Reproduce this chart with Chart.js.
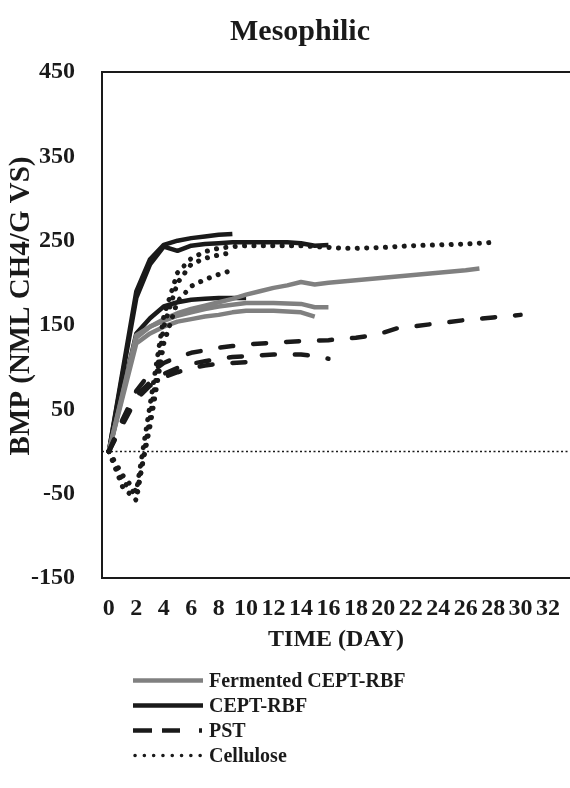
<!DOCTYPE html>
<html>
<head>
<meta charset="utf-8">
<script src="https://cdn.jsdelivr.net/npm/chart.js@4.4.1/dist/chart.umd.min.js"></script>
<style>
  body { margin: 0; background: #fff; }
  #wrap { position: relative; width: 570px; height: 788px; }
  #legend { position: absolute; left: 0; top: 0; font: bold 20px "Liberation Serif", serif; color: #1a1a1a; }
  .item { position: absolute; left: 133px; height: 25px; display: flex; align-items: center; white-space: nowrap; }
  .item svg { width: 72px; height: 25px; margin-right: 4px; }
</style>
</head>
<body>
<div id="wrap">
  <canvas id="myChart" width="570" height="788"></canvas>
  <div id="legend"></div>
</div>
<script>
// Mesophilic BMP curves, three replicates per substrate
const xTicks = [0, 2, 4, 6, 8, 10, 12, 14, 16, 18, 20, 22, 24, 26, 28, 30, 32];
const seriesNames = ["Fermented CEPT-RBF", "CEPT-RBF", "PST", "Cellulose"];

// Fermented CEPT-RBF
const fermDaysA = [0, 2, 3, 4, 5, 6, 7, 8, 9, 10, 11, 12, 13, 14, 15, 16, 18, 20, 22, 24, 26, 27];
const fermA = [0, 135, 148, 157, 164, 169, 173, 177, 181, 186, 190, 194, 197, 201, 198, 200, 203, 206, 209, 212, 215, 217];
const fermDaysB = [0, 2, 3, 4, 5, 6, 7, 8, 9, 10, 12, 14, 15, 16];
const fermB = [0, 138, 148, 155, 161, 165, 169, 172, 174, 176, 176, 175, 171, 171];
const fermDaysC = [0, 2, 3, 4, 5, 6, 7, 8, 9, 10, 12, 14, 15];
const fermC = [0, 128, 140, 148, 154, 157, 160, 162, 165, 167, 167, 165, 160];

// CEPT-RBF
const ceptDaysA = [0, 2, 3, 4, 5, 6, 7, 8, 9];
const ceptA = [0, 190, 228, 245, 250, 253, 255, 257, 258];
const ceptDaysB = [0, 2, 3, 4, 5, 6, 7, 8, 9, 10, 11, 12, 13, 14, 15, 16];
const ceptB = [0, 182, 222, 243, 238, 244, 246, 247, 248, 248, 248, 248, 248, 247, 244, 245];
const ceptDaysC = [0, 2, 3, 4, 5, 6, 7, 8, 9, 10];
const ceptC = [0, 140, 158, 172, 177, 180, 181, 182, 182, 182];

// PST
const pstDaysA = [0, 1, 2, 3, 4, 5, 6, 7, 8, 9, 10, 12, 14, 16, 18, 19, 20, 21, 22, 24, 26, 28, 30];
const pstA = [0, 38, 72, 93, 105, 112, 117, 120, 123, 125, 127, 129, 131, 132, 135, 137, 141, 146, 148, 152, 156, 159, 162];
const pstDaysB = [0, 1, 2, 3, 4, 5, 6, 7, 8, 9, 10, 11, 12, 13, 14, 15, 16];
const pstB = [0, 35, 66, 82, 92, 99, 104, 107, 110, 112, 113, 114, 115, 115, 115, 113, 110];
const pstDaysC = [0, 1, 2, 3, 4, 5, 6, 7, 8, 9, 10];
const pstC = [0, 32, 62, 78, 88, 94, 99, 102, 104, 105, 106];

// Cellulose
const celDaysA = [0, 1, 2, 3, 4, 5, 6, 7, 8, 9, 10, 11, 12, 13, 14, 15, 16, 17, 18, 20, 22, 24, 26, 28];
const celA = [0, -28, -48, 55, 160, 212, 229, 237, 241, 243, 244, 244, 244, 244, 244, 243, 242, 241, 241, 242, 244, 245, 246, 248];
const celDaysB = [0, 1, 2, 3, 4, 5, 6, 7, 8, 9];
const celB = [0, -42, -58, 40, 148, 200, 222, 229, 233, 236];
const celDaysC = [0, 1, 2, 3, 4, 5, 6, 7, 8, 9];
const celC = [0, -35, -52, 30, 128, 178, 196, 204, 210, 215];

const FONT = '"Liberation Serif", "Times New Roman", serif';
const GRAY = '#808080';
const BLACK = '#1a1a1a';

const styles = [
    { color: GRAY, dash: [], cap: 'butt', width: 4.5 },
    { color: BLACK, dash: [], cap: 'butt', width: 4.5 },
    { color: BLACK, dash: [13, 20], cap: 'round', width: 4.5 },
    { color: BLACK, dash: [0.1, 9.3], cap: 'round', width: 5 }
];

function pts(days, vals) {
    return days.map((d, i) => ({ x: d, y: vals[i] }));
}

function makeSet(k, days, vals) {
    return {
        label: seriesNames[k],
        data: pts(days, vals),
        borderColor: styles[k].color,
        borderWidth: styles[k].width,
        borderDash: styles[k].dash,
        borderCapStyle: styles[k].cap,
        borderJoinStyle: 'round',
        pointRadius: 0,
        tension: 0,
        fill: false
    };
}

const datasets = [
    makeSet(3, celDaysA, celA), makeSet(3, celDaysB, celB), makeSet(3, celDaysC, celC),
    makeSet(2, pstDaysA, pstA), makeSet(2, pstDaysB, pstB), makeSet(2, pstDaysC, pstC),
    makeSet(0, fermDaysA, fermA), makeSet(0, fermDaysB, fermB), makeSet(0, fermDaysC, fermC),
    makeSet(1, ceptDaysA, ceptA), makeSet(1, ceptDaysB, ceptB), makeSet(1, ceptDaysC, ceptC)
];

// zero line, frame top, chart title and y axis title
const extras = {
    id: 'extras',
    beforeDatasetsDraw(chart) {
        const { ctx, chartArea: a, scales } = chart;
        const y0 = scales.y.getPixelForValue(0);
        ctx.save();
        ctx.strokeStyle = BLACK;
        ctx.lineWidth = 1.5;
        ctx.setLineDash([2, 2.5]);
        ctx.beginPath();
        ctx.moveTo(a.left, y0);
        ctx.lineTo(a.right, y0);
        ctx.stroke();
        ctx.restore();
    },
    afterDraw(chart) {
        const { ctx, chartArea: a } = chart;
        ctx.save();
        ctx.strokeStyle = BLACK;
        ctx.lineWidth = 2;
        ctx.beginPath();
        ctx.moveTo(a.left, a.top);
        ctx.lineTo(a.right, a.top);
        ctx.stroke();
        ctx.fillStyle = BLACK;
        ctx.textAlign = 'center';
        ctx.textBaseline = 'middle';
        ctx.font = 'bold 30px ' + FONT;
        ctx.fillText('Mesophilic', 300, 32);
        ctx.translate(22, 306);
        ctx.rotate(-Math.PI / 2);
        ctx.font = 'bold 29px ' + FONT;
        ctx.fillText('BMP (NML CH4/G VS)', 0, 0);
        ctx.restore();
    }
};

const ctx = document.getElementById('myChart').getContext('2d');
const myChart = new Chart(ctx, {
    type: 'line',
    data: { datasets: datasets },
    options: {
        responsive: false,
        animation: false,
        devicePixelRatio: 1,
        layout: { padding: { top: 72, bottom: 128, left: 0, right: 0 } },
        plugins: {
            legend: { display: false },
            tooltip: { enabled: false }
        },
        scales: {
            x: {
                type: 'linear',
                min: -0.5,
                max: 33.6,
                afterBuildTicks: s => { s.ticks = xTicks.map(v => ({ value: v })); },
                afterFit: s => { s.height = 82; s.paddingRight = 0; s.paddingLeft = 0; },
                grid: { display: false, drawTicks: false },
                border: { display: true, color: BLACK, width: 2 },
                ticks: {
                    autoSkip: false, maxRotation: 0, padding: 16,
                    color: BLACK, font: { family: FONT, size: 24, weight: 'bold' }
                },
                title: {
                    display: true, text: 'TIME (DAY)', color: BLACK,
                    font: { family: FONT, size: 24, weight: 'bold' },
                    padding: { top: 0, bottom: 6 }
                }
            },
            y: {
                min: -150,
                max: 450,
                afterFit: s => { s.width = 102; },
                grid: { display: false, drawTicks: false },
                border: { display: true, color: BLACK, width: 2 },
                ticks: {
                    stepSize: 100, padding: 27,
                    color: BLACK, font: { family: FONT, size: 24, weight: 'bold' }
                }
            }
        }
    },
    plugins: [extras]
});

// legend below the plot, one entry per row
const legendSamples = [
    '<line x1="0" y1="12.5" x2="70" y2="12.5" stroke="' + GRAY + '" stroke-width="4.5"/>',
    '<line x1="0" y1="12.5" x2="70" y2="12.5" stroke="' + BLACK + '" stroke-width="4.5"/>',
    '<line x1="0" y1="12.5" x2="70" y2="12.5" stroke="' + BLACK + '" stroke-width="4.5" stroke-dasharray="19 10 18 19 3 10"/>',
    '<line x1="2" y1="12.5" x2="70" y2="12.5" stroke="' + BLACK + '" stroke-width="3.5" stroke-linecap="round" stroke-dasharray="0.1 9.2"/>'
];
const legend = document.getElementById('legend');
seriesNames.forEach((name, i) => {
    const row = document.createElement('div');
    row.className = 'item';
    row.style.top = (668 + i * 25) + 'px';
    row.innerHTML = '<svg viewBox="0 0 72 25">' + legendSamples[i] + '</svg><span>' + name + '</span>';
    legend.appendChild(row);
});
</script>
</body>
</html>
